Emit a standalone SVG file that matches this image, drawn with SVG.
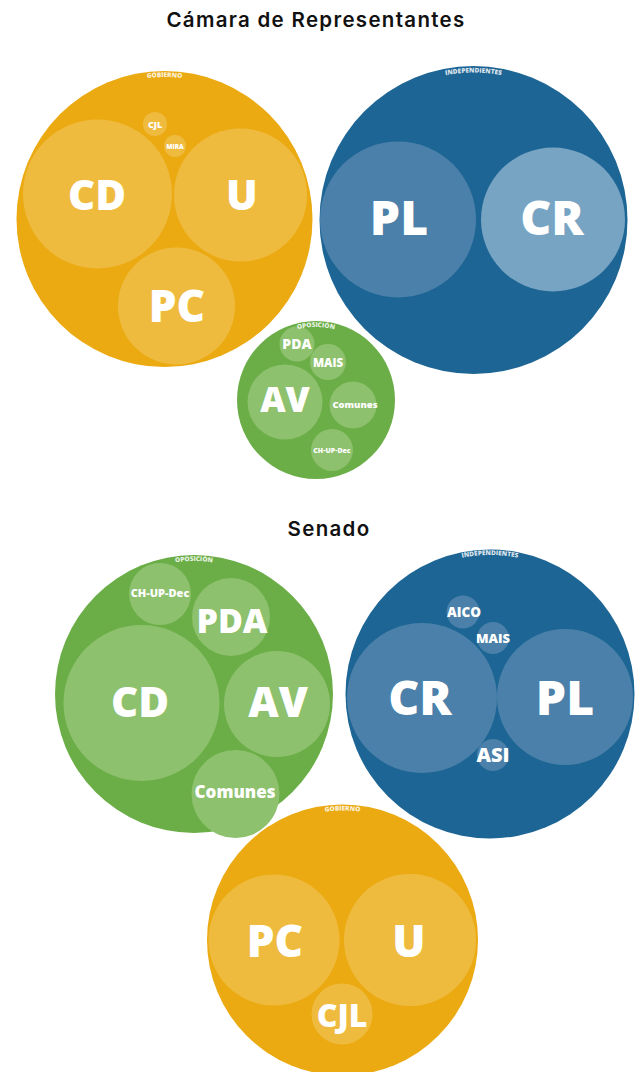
<svg xmlns="http://www.w3.org/2000/svg" xmlns:xlink="http://www.w3.org/1999/xlink" width="637" height="1072" viewBox="0 0 637 1072">
<style>
.title{font-family:Inter,"Noto Sans",sans-serif;font-weight:600;font-size:20.5px;fill:#111;text-anchor:middle;letter-spacing:1.3px}
.gob{fill:#EBAA12}
.gobi{fill:#EFBB3F}
.ind{fill:#1D6594}
.pl{fill:#4A80A9}
.cr{fill:#78A4C3}
.opo{fill:#6BAE47}
.opoi{fill:#8DC16D}
.lb{font-family:"Open Sans","Noto Sans",sans-serif;font-weight:800;fill:#fff;text-anchor:middle}
.grp{font-family:"Open Sans","Noto Sans",sans-serif;font-weight:800;fill:#fff;fill-opacity:0.85;font-size:6.5px}
</style>
<defs>
<path id="a1" d="M 22.5 219 A 142 142 0 0 1 306.5 219"/>
<path id="a2" d="M 326 220 A 147.5 147.5 0 0 1 621 220"/>
<path id="a3" d="M 243 400 A 73 73 0 0 1 389 400"/>
<path id="a4" d="M 61 694 A 133 133 0 0 1 327 694"/>
<path id="a5" d="M 351 694 A 139 139 0 0 1 629 694"/>
<path id="a6" d="M 213 940 A 129.5 129.5 0 0 1 472 940"/>
</defs>
<text class="title" x="316" y="27">Cámara de Representantes</text>
<text class="title" x="329" y="536">Senado</text>

<g id="camara-gobierno">
<circle class="gob" cx="164.5" cy="219" r="148"/>
<circle class="gobi" cx="97.5" cy="194" r="74.5"/>
<circle class="gobi" cx="240.5" cy="195" r="66.5"/>
<circle class="gobi" cx="176.5" cy="306" r="58.5"/>
<circle class="gobi" cx="155" cy="124" r="12"/>
<circle class="gobi" cx="175" cy="146" r="11"/>
<text class="grp"><textPath xlink:href="#a1" href="#a1" startOffset="50%" text-anchor="middle">GOBIERNO</textPath></text>
<text class="lb" x="97" y="210" font-size="42">CD</text>
<text class="lb" x="242" y="210" font-size="42">U</text>
<text class="lb" x="177" y="322" font-size="44">PC</text>
<text class="lb" x="155" y="127.5" font-size="9">CJL</text>
<text class="lb" x="175" y="148.5" font-size="6.5">MIRA</text>
</g>

<g id="camara-independientes">
<circle class="ind" cx="473.5" cy="220" r="154"/>
<circle class="pl" cx="398" cy="219.5" r="78"/>
<circle class="cr" cx="553" cy="219.5" r="72"/>
<text class="grp"><textPath xlink:href="#a2" href="#a2" startOffset="50%" text-anchor="middle">INDEPENDIENTES</textPath></text>
<text class="lb" x="399" y="235" font-size="48">PL</text>
<text class="lb" x="552" y="235" font-size="48">CR</text>
</g>

<g id="camara-oposicion">
<circle class="opo" cx="316" cy="400" r="79"/>
<circle class="opoi" cx="285" cy="402" r="37.5"/>
<circle class="opoi" cx="297" cy="344" r="17.5"/>
<circle class="opoi" cx="328" cy="362" r="18"/>
<circle class="opoi" cx="353" cy="405" r="23.5"/>
<circle class="opoi" cx="332" cy="450" r="21"/>
<text class="grp"><textPath xlink:href="#a3" href="#a3" startOffset="50%" text-anchor="middle">OPOSICIÓN</textPath></text>
<text class="lb" x="285" y="412" font-size="35">AV</text>
<text class="lb" x="297" y="349" font-size="14">PDA</text>
<text class="lb" x="328" y="367" font-size="11.5">MAIS</text>
<text class="lb" x="355" y="408" font-size="9.5">Comunes</text>
<text class="lb" x="332" y="453" font-size="7">CH-UP-Dec</text>
</g>

<g id="senado-oposicion">
<circle class="opo" cx="194" cy="694" r="139"/>
<circle class="opoi" cx="141.5" cy="703" r="78"/>
<circle class="opoi" cx="277" cy="704" r="53"/>
<circle class="opoi" cx="231" cy="617" r="39"/>
<circle class="opoi" cx="160" cy="594" r="31"/>
<circle class="opoi" cx="235.5" cy="794" r="44"/>
<text class="grp"><textPath xlink:href="#a4" href="#a4" startOffset="50%" text-anchor="middle">OPOSICIÓN</textPath></text>
<text class="lb" x="140" y="717" font-size="42">CD</text>
<text class="lb" x="278" y="717" font-size="42">AV</text>
<text class="lb" x="232" y="633" font-size="34">PDA</text>
<text class="lb" x="160" y="597" font-size="11">CH-UP-Dec</text>
<text class="lb" x="235" y="798" font-size="17">Comunes</text>
</g>

<g id="senado-independientes">
<circle class="ind" cx="490" cy="694" r="144.5"/>
<circle class="pl" cx="422" cy="698" r="75"/>
<circle class="pl" cx="565" cy="697" r="68"/>
<circle class="pl" cx="463" cy="612" r="16.5"/>
<circle class="pl" cx="493" cy="638" r="16"/>
<circle class="pl" cx="493" cy="755" r="16"/>
<text class="grp"><textPath xlink:href="#a5" href="#a5" startOffset="50%" text-anchor="middle">INDEPENDIENTES</textPath></text>
<text class="lb" x="420" y="715" font-size="48">CR</text>
<text class="lb" x="565" y="715" font-size="48">PL</text>
<text class="lb" x="464" y="617" font-size="13.5">AICO</text>
<text class="lb" x="493" y="643" font-size="13">MAIS</text>
<text class="lb" x="493" y="762" font-size="20">ASI</text>
</g>

<g id="senado-gobierno">
<circle class="gob" cx="342.5" cy="940" r="135.5"/>
<circle class="gobi" cx="274" cy="940" r="65.5"/>
<circle class="gobi" cx="410" cy="940" r="66"/>
<circle class="gobi" cx="342" cy="1014" r="30.5"/>
<text class="grp"><textPath xlink:href="#a6" href="#a6" startOffset="50%" text-anchor="middle">GOBIERNO</textPath></text>
<text class="lb" x="275" y="957" font-size="44">PC</text>
<text class="lb" x="409" y="957" font-size="44">U</text>
<text class="lb" x="342" y="1027" font-size="32">CJL</text>
</g>
</svg>
